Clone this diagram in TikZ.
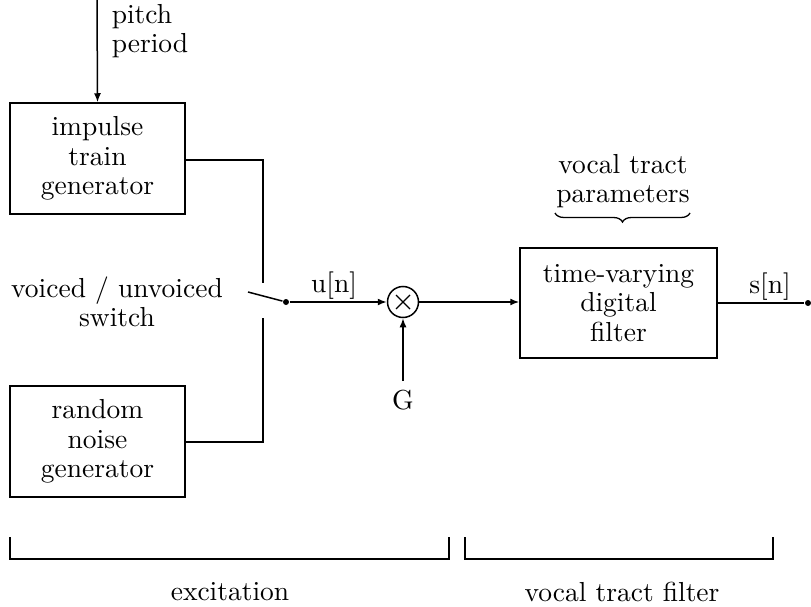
\documentclass[tikz,border=0pt]{standalone}
\usepackage{fontspec}
\setmainfont{lmroman10-regular.otf}
\usetikzlibrary{arrows.meta,decorations.pathreplacing}
\begin{document}
\begin{tikzpicture}[x=1pt,y=-1pt,
  line width=1.5pt,
  txt/.style={font=\fontsize{27.5}{29.5}\selectfont, align=center, inner sep=0pt},
  blk/.style={draw, txt, minimum width=175pt},
  arr/.style={-{Latex[length=9pt,width=7pt]}},
  dotc/.style={circle, fill, inner sep=0pt, minimum size=6pt}]
\useasboundingbox (0,0) rectangle (811,607);
% boxes
\node[blk, minimum height=111pt] (imp) at (97.5,158.5) {impulse\\train\\generator};
\node[blk, minimum height=111pt] (noi) at (97.5,441.5) {random\\noise\\generator};
\node[draw, txt, minimum width=197pt, minimum height=110pt] (flt) at (618.5,303) {time-varying\\digital\\filter};
\node[draw, circle, minimum size=31pt, inner sep=0pt] (mul) at (403,302) {};
\draw[line width=1.3pt] ([shift={(-7,-7)}]mul.center) -- ([shift={(7,7)}]mul.center)
  ([shift={(-7,7)}]mul.center) -- ([shift={(7,-7)}]mul.center);
% pitch period
\coordinate (ptop) at (97,0);
\draw[arr] (ptop) -- (imp.north);
\node[txt, align=left, anchor=west] (pp) at (111,31) {pitch\\period};
% switch
\coordinate (c1) at (263,160);
\coordinate (s1) at (263,283);
\coordinate (s2) at (263,318);
\coordinate (c2) at (263,442);
\draw (imp.east |- c1) -- (c1) -- (s1);
\draw (noi.east |- c2) -- (c2) -- (s2);
\node[dotc] (sw) at (286,302) {};
\coordinate (swa) at (248,292);
\draw (swa) -- (sw);
\draw[arr] (sw) -- (mul.west);
\node[txt] (un) at (334,286) {u[n]};
\node[txt] (vu) at (117,302) {voiced / unvoiced\\switch};
% gain
\node[txt] (g) at (403,400) {G};
\draw[arr] (403,381) -- (mul.south);
% filter
\draw[arr] (mul.east) -- (flt.west |- mul.east);
\node[dotc] (out) at (808,303) {};
\draw (flt.east |- out) -- (out);
\node[txt] (sn) at (770,287) {s[n]};
\node[txt] (vtp) at (623,181) {vocal tract\\parameters};
\draw[decorate, decoration={brace, amplitude=9pt, mirror}, line width=1.3pt] (555,213) -- (690,213);
% brackets
\coordinate (b1) at (10,537); \coordinate (b2) at (449,537);
\coordinate (b3) at (465,537); \coordinate (b4) at (773,537);
\draw (b1) -- (10,559) -- (449,559) -- (b2);
\draw (b3) -- (465,559) -- (773,559) -- (b4);
\node[txt] (exc) at (230,592) {excitation};
\node[txt] (vtf) at (622,592) {vocal tract filter};
\end{tikzpicture}
\end{document}
